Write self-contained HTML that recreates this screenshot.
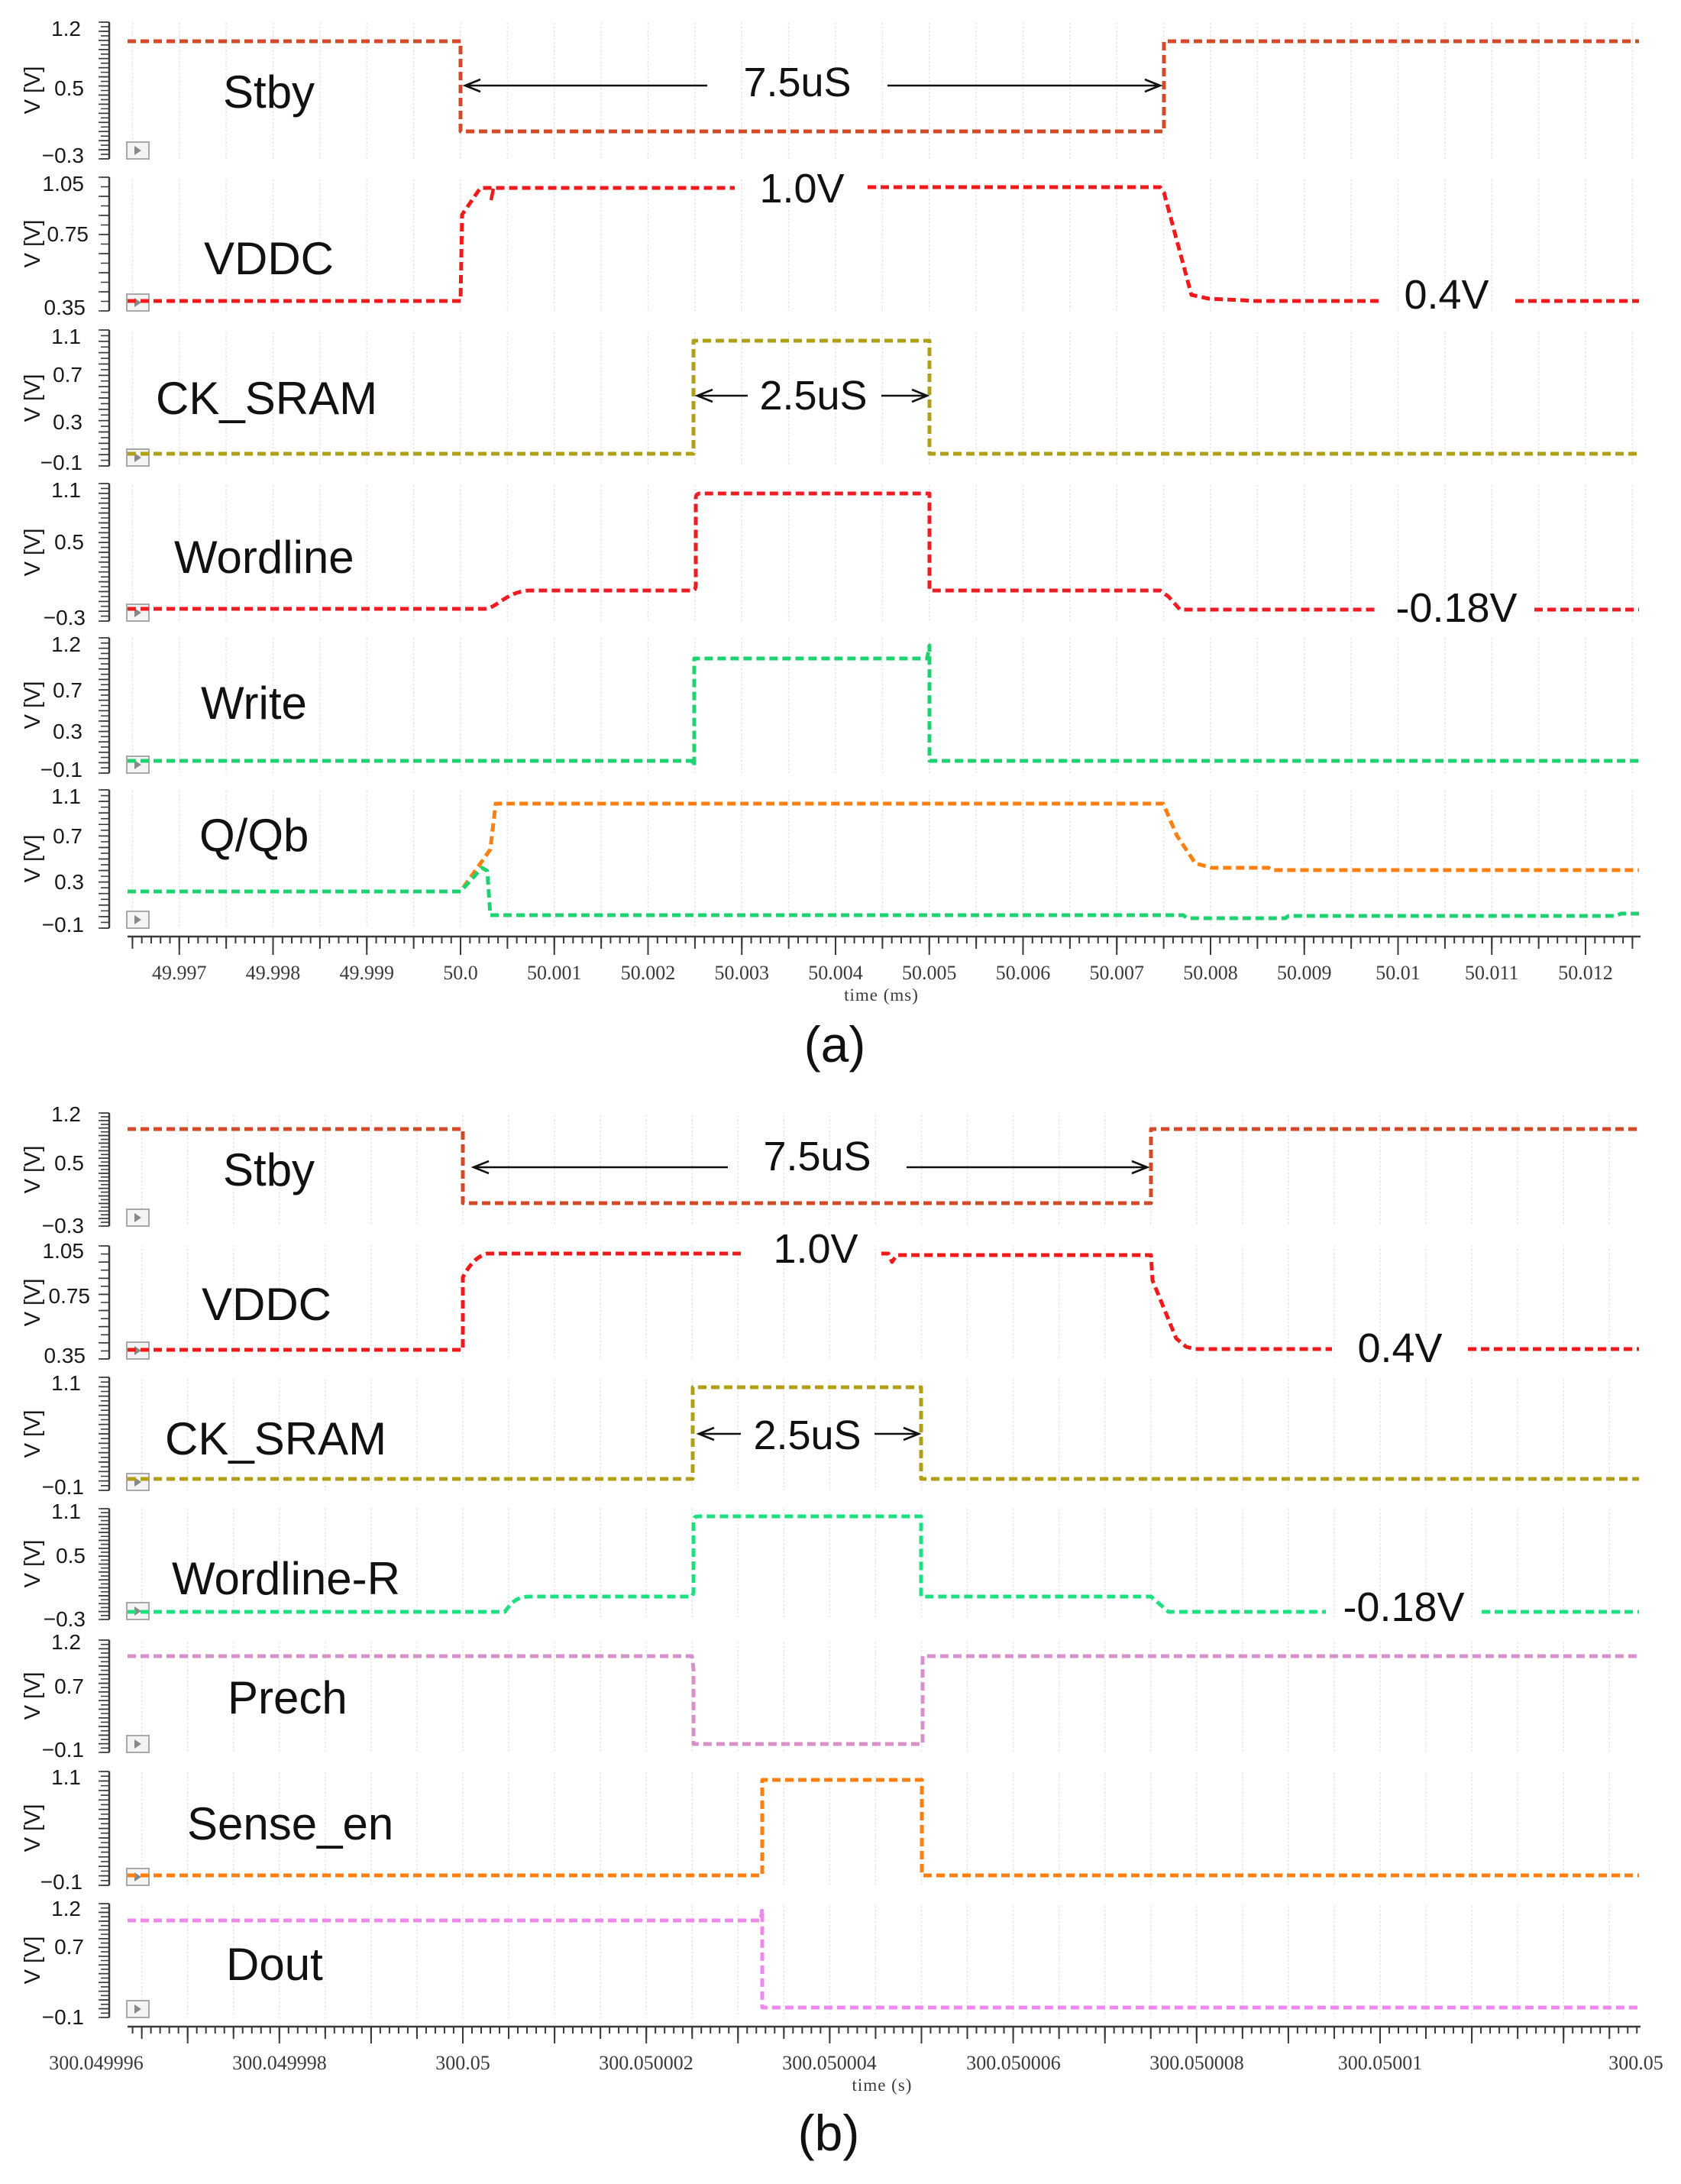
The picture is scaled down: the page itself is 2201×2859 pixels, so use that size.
<!DOCTYPE html>
<html><head><meta charset="utf-8"><style>
html,body{margin:0;padding:0;background:#fff}
svg{display:block}
.tl{font-family:"Liberation Sans",Arial,sans-serif;font-size:28px;fill:#1a1a1a;text-anchor:end}
.yl{font-family:"Liberation Sans",Arial,sans-serif;font-size:29px;fill:#1a1a1a;text-anchor:middle}
.sl{font-family:"Liberation Sans",Arial,sans-serif;font-size:60px;fill:#111}
.an{font-family:"Liberation Sans",Arial,sans-serif;font-size:54px;fill:#111;text-anchor:middle}
.xl{font-family:"Liberation Serif","DejaVu Serif",serif;font-size:26px;fill:#3a3a3a;text-anchor:middle}
.cap{font-family:"Liberation Sans",Arial,sans-serif;font-size:66px;fill:#111;text-anchor:middle}
.sig{fill:none;stroke-width:5;stroke-dasharray:11 6;stroke-linejoin:round}
.arr{fill:none;stroke:#111;stroke-width:2.6}
.ax{stroke:#3a3a3a}
</style></head><body>
<svg width="2201" height="2859" viewBox="0 0 2201 2859" xmlns="http://www.w3.org/2000/svg">
<defs>
<pattern id="ga" patternUnits="userSpaceOnUse" x="602.25" y="0" width="61.375" height="5"><rect width="1.5" height="2.5" fill="#e4e4e4"/></pattern>
<pattern id="gb" patternUnits="userSpaceOnUse" x="605.25" y="0" width="60.05" height="5"><rect width="1.5" height="2.5" fill="#e4e4e4"/></pattern>
<g id="ic"><rect x="0" y="0" width="29" height="22" fill="#f4f4f4" stroke="#a8a8a8" stroke-width="2"/><polygon points="10,5 10,17 19,11" fill="#888"/></g>
</defs>

<!-- ============ (a) grids ============ -->
<rect x="167" y="29" width="1981" height="179" fill="url(#ga)"/>
<rect x="167" y="232" width="1981" height="175" fill="url(#ga)"/>
<rect x="167" y="432" width="1981" height="178" fill="url(#ga)"/>
<rect x="167" y="633" width="1981" height="180" fill="url(#ga)"/>
<rect x="167" y="835" width="1981" height="177" fill="url(#ga)"/>
<rect x="167" y="1034" width="1981" height="181" fill="url(#ga)"/>

<!-- (a) y axes -->
<g class="ax">
<line x1="143" y1="29" x2="143" y2="208" stroke-width="2.5"/>
<line x1="137.5" y1="28.2" x2="137.5" y2="209" stroke-width="11" stroke-dasharray="1.6 4.367"/>
<line x1="136" y1="28.2" x2="136" y2="209" stroke-width="14" stroke-dasharray="1.6 10.33"/>
<line x1="143" y1="232" x2="143" y2="407" stroke-width="2.5"/>
<line x1="137.5" y1="231.2" x2="137.5" y2="408" stroke-width="11" stroke-dasharray="1.6 10.9"/>
<line x1="136" y1="231.2" x2="136" y2="408" stroke-width="14" stroke-dasharray="1.6 23.4"/>
<line x1="143" y1="432" x2="143" y2="610" stroke-width="2.5"/>
<line x1="137.5" y1="431.2" x2="137.5" y2="611" stroke-width="11" stroke-dasharray="1.6 5.817"/>
<line x1="136" y1="431.2" x2="136" y2="611" stroke-width="14" stroke-dasharray="1.6 13.23"/>
<line x1="143" y1="633" x2="143" y2="813" stroke-width="2.5"/>
<line x1="137.5" y1="632.2" x2="137.5" y2="814" stroke-width="11" stroke-dasharray="1.6 4.829"/>
<line x1="136" y1="632.2" x2="136" y2="814" stroke-width="14" stroke-dasharray="1.6 11.26"/>
<line x1="143" y1="835" x2="143" y2="1012" stroke-width="2.5"/>
<line x1="137.5" y1="834.2" x2="137.5" y2="1013" stroke-width="11" stroke-dasharray="1.6 5.208"/>
<line x1="136" y1="834.2" x2="136" y2="1013" stroke-width="14" stroke-dasharray="1.6 12.02"/>
<line x1="143" y1="1034" x2="143" y2="1215" stroke-width="2.5"/>
<line x1="137.5" y1="1033.2" x2="137.5" y2="1216" stroke-width="11" stroke-dasharray="1.6 5.942"/>
<line x1="136" y1="1033.2" x2="136" y2="1216" stroke-width="14" stroke-dasharray="1.6 13.48"/>
</g>

<!-- (a) tick labels -->
<text class="tl" x="106" y="47">1.2</text><text class="tl" x="110" y="125">0.5</text><text class="tl" x="110" y="213">−0.3</text>
<text class="tl" x="110" y="250">1.05</text><text class="tl" x="116" y="316">0.75</text><text class="tl" x="112" y="412">0.35</text>
<text class="tl" x="106" y="450">1.1</text><text class="tl" x="108" y="500">0.7</text><text class="tl" x="108" y="562">0.3</text><text class="tl" x="108" y="615">−0.1</text>
<text class="tl" x="106" y="651">1.1</text><text class="tl" x="110" y="719">0.5</text><text class="tl" x="112" y="818">−0.3</text>
<text class="tl" x="106" y="853">1.2</text><text class="tl" x="108" y="913">0.7</text><text class="tl" x="108" y="967">0.3</text><text class="tl" x="108" y="1017">−0.1</text>
<text class="tl" x="106" y="1052">1.1</text><text class="tl" x="108" y="1104">0.7</text><text class="tl" x="110" y="1164">0.3</text><text class="tl" x="110" y="1220">−0.1</text>

<!-- (a) V [V] labels -->
<text class="yl" transform="translate(42,118) rotate(-90)" y="10">V [V]</text>
<text class="yl" transform="translate(42,319) rotate(-90)" y="10">V [V]</text>
<text class="yl" transform="translate(42,521) rotate(-90)" y="10">V [V]</text>
<text class="yl" transform="translate(42,723) rotate(-90)" y="10">V [V]</text>
<text class="yl" transform="translate(42,923) rotate(-90)" y="10">V [V]</text>
<text class="yl" transform="translate(42,1124) rotate(-90)" y="10">V [V]</text>

<!-- (a) icons -->
<use href="#ic" x="166" y="186"/><use href="#ic" x="166" y="385"/><use href="#ic" x="166" y="588"/>
<use href="#ic" x="166" y="791"/><use href="#ic" x="166" y="990"/><use href="#ic" x="166" y="1193"/>

<!-- (a) x axis -->
<g class="ax">
<line x1="167" y1="1226" x2="2148" y2="1226" stroke-width="2.5"/>
<line x1="172.4" y1="1230.5" x2="2148" y2="1230.5" stroke-width="9" stroke-dasharray="2 10.275"/>
<line x1="172.4" y1="1234" x2="2148" y2="1234" stroke-width="16" stroke-dasharray="2 59.375"/>
<line x1="233.75" y1="1238" x2="2148" y2="1238" stroke-width="24" stroke-dasharray="2 120.75"/>
</g>
<text class="xl" x="234.75" y="1282">49.997</text>
<text class="xl" x="357.5" y="1282">49.998</text>
<text class="xl" x="480.25" y="1282">49.999</text>
<text class="xl" x="603" y="1282">50.0</text>
<text class="xl" x="725.75" y="1282">50.001</text>
<text class="xl" x="848.5" y="1282">50.002</text>
<text class="xl" x="971.25" y="1282">50.003</text>
<text class="xl" x="1094" y="1282">50.004</text>
<text class="xl" x="1216.75" y="1282">50.005</text>
<text class="xl" x="1339.5" y="1282">50.006</text>
<text class="xl" x="1462.25" y="1282">50.007</text>
<text class="xl" x="1585" y="1282">50.008</text>
<text class="xl" x="1707.75" y="1282">50.009</text>
<text class="xl" x="1830.5" y="1282">50.01</text>
<text class="xl" x="1953.25" y="1282">50.011</text>
<text class="xl" x="2076" y="1282">50.012</text>
<text class="xl" x="1154" y="1310" style="font-size:23px;letter-spacing:1px">time (ms)</text>
<text class="cap" x="1093" y="1390">(a)</text>

<!-- (a) signals -->
<path class="sig" stroke="#d24a28" d="M167,54 H603 V172 H1524 V54 H2146"/>
<path class="sig" stroke="#f01a1a" d="M167,394 H603 L605,281 L629,246 H962 M1136,245 H1519 L1524,252 L1560,386 L1583,391 L1627,393 L1640,394 H1808 M1984,394 H2146"/>
<path fill="none" stroke="#f01a1a" stroke-width="4.5" d="M646,247 L643,262"/>
<path class="sig" stroke="#b0a018" d="M167,594 H908 V446 H1217 V594 H2146"/>
<path class="sig" stroke="#ee1c24" d="M167,797 H634 C650,797 662,775 692,773 H907 Q911,773 911,765 V652 Q911,646 917,646 H1217 V773 H1519 L1530,781 L1545,798 H1805 M2009,798 H2146"/>
<path class="sig" stroke="#1ed270" d="M167,996 H906 L909,1003 V862 H1214 L1217,845 V996 H2146"/>
<path class="sig" stroke="#ff8010" d="M167,1167 H603 L642,1112 L649,1052 H1523 L1541,1094 L1565,1130 L1586,1136 H1661 L1665,1139 H2146"/>
<path class="sig" stroke="#1ed270" d="M167,1167 H603 L631,1136 L638,1140 L642,1198 H1549 L1555,1202 H1683 L1687,1199 H2116 L2122,1196 H2146"/>

<!-- (a) annotations -->
<path class="arr" d="M609,112 H926 M629,104 L609,112 L629,120 M1162,112 H1519 M1499,104 L1519,112 L1499,120"/>
<text class="an" x="1044" y="126">7.5uS</text>
<text class="an" x="1050" y="265">1.0V</text>
<path class="arr" d="M913,518 H979 M933,510 L913,518 L933,526 M1154,518 H1214 M1194,510 L1214,518 L1194,526"/>
<text class="an" x="1065" y="536">2.5uS</text>
<text class="an" x="1894" y="404">0.4V</text>
<text class="an" x="1907" y="814">-0.18V</text>

<!-- signal labels (a) -->
<text class="sl" x="292" y="141">Stby</text>
<text class="sl" x="267" y="359">VDDC</text>
<text class="sl" x="204" y="542">CK_SRAM</text>
<text class="sl" x="228" y="750">Wordline</text>
<text class="sl" x="263" y="941">Write</text>
<text class="sl" x="261" y="1114">Q/Qb</text>

<!-- ============ (b) grids ============ -->
<rect x="167" y="1457" width="1981" height="148" fill="url(#gb)"/>
<rect x="167" y="1631" width="1981" height="148" fill="url(#gb)"/>
<rect x="167" y="1803" width="1981" height="148" fill="url(#gb)"/>
<rect x="167" y="1975" width="1981" height="145" fill="url(#gb)"/>
<rect x="167" y="2147" width="1981" height="147" fill="url(#gb)"/>
<rect x="167" y="2319" width="1981" height="149" fill="url(#gb)"/>
<rect x="167" y="2492" width="1981" height="149" fill="url(#gb)"/>

<!-- (b) y axes -->
<g class="ax">
<line x1="143" y1="1457" x2="143" y2="1605" stroke-width="2.5"/>
<line x1="137.5" y1="1456.2" x2="137.5" y2="1606" stroke-width="11" stroke-dasharray="1.6 3.333"/>
<line x1="136" y1="1456.2" x2="136" y2="1606" stroke-width="14" stroke-dasharray="1.6 8.267"/>
<line x1="143" y1="1631" x2="143" y2="1779" stroke-width="2.5"/>
<line x1="137.5" y1="1630.2" x2="137.5" y2="1780" stroke-width="11" stroke-dasharray="1.6 8.971"/>
<line x1="136" y1="1630.2" x2="136" y2="1780" stroke-width="14" stroke-dasharray="1.6 19.54"/>
<line x1="143" y1="1803" x2="143" y2="1951" stroke-width="2.5"/>
<line x1="137.5" y1="1802.2" x2="137.5" y2="1952" stroke-width="11" stroke-dasharray="1.6 4.567"/>
<line x1="136" y1="1802.2" x2="136" y2="1952" stroke-width="14" stroke-dasharray="1.6 10.73"/>
<line x1="143" y1="1975" x2="143" y2="2120" stroke-width="2.5"/>
<line x1="137.5" y1="1974.2" x2="137.5" y2="2121" stroke-width="11" stroke-dasharray="1.6 3.579"/>
<line x1="136" y1="1974.2" x2="136" y2="2121" stroke-width="14" stroke-dasharray="1.6 8.758"/>
<line x1="143" y1="2147" x2="143" y2="2294" stroke-width="2.5"/>
<line x1="137.5" y1="2146.2" x2="137.5" y2="2295" stroke-width="11" stroke-dasharray="1.6 4.054"/>
<line x1="136" y1="2146.2" x2="136" y2="2295" stroke-width="14" stroke-dasharray="1.6 9.708"/>
<line x1="143" y1="2319" x2="143" y2="2468" stroke-width="2.5"/>
<line x1="137.5" y1="2318.2" x2="137.5" y2="2469" stroke-width="11" stroke-dasharray="1.6 4.608"/>
<line x1="136" y1="2318.2" x2="136" y2="2469" stroke-width="14" stroke-dasharray="1.6 10.82"/>
<line x1="143" y1="2492" x2="143" y2="2641" stroke-width="2.5"/>
<line x1="137.5" y1="2491.2" x2="137.5" y2="2642" stroke-width="11" stroke-dasharray="1.6 4.131"/>
<line x1="136" y1="2491.2" x2="136" y2="2642" stroke-width="14" stroke-dasharray="1.6 9.862"/>
</g>

<!-- (b) tick labels -->
<text class="tl" x="106" y="1468">1.2</text><text class="tl" x="110" y="1532">0.5</text><text class="tl" x="110" y="1614">−0.3</text>
<text class="tl" x="110" y="1647">1.05</text><text class="tl" x="118" y="1706">0.75</text><text class="tl" x="112" y="1784">0.35</text>
<text class="tl" x="106" y="1820">1.1</text><text class="tl" x="110" y="1956">−0.1</text>
<text class="tl" x="106" y="1988">1.1</text><text class="tl" x="112" y="2046">0.5</text><text class="tl" x="112" y="2129">−0.3</text>
<text class="tl" x="106" y="2159">1.2</text><text class="tl" x="110" y="2217">0.7</text><text class="tl" x="110" y="2300">−0.1</text>
<text class="tl" x="106" y="2336">1.1</text><text class="tl" x="108" y="2473">−0.1</text>
<text class="tl" x="106" y="2508">1.2</text><text class="tl" x="110" y="2558">0.7</text><text class="tl" x="110" y="2650">−0.1</text>

<!-- (b) V [V] labels -->
<text class="yl" transform="translate(42,1531) rotate(-90)" y="10">V [V]</text>
<text class="yl" transform="translate(42,1705) rotate(-90)" y="10">V [V]</text>
<text class="yl" transform="translate(42,1877) rotate(-90)" y="10">V [V]</text>
<text class="yl" transform="translate(42,2047) rotate(-90)" y="10">V [V]</text>
<text class="yl" transform="translate(42,2220) rotate(-90)" y="10">V [V]</text>
<text class="yl" transform="translate(42,2393) rotate(-90)" y="10">V [V]</text>
<text class="yl" transform="translate(42,2566) rotate(-90)" y="10">V [V]</text>

<!-- (b) icons -->
<use href="#ic" x="166" y="1583"/><use href="#ic" x="166" y="1757"/><use href="#ic" x="166" y="1929"/>
<use href="#ic" x="166" y="2098"/><use href="#ic" x="166" y="2272"/><use href="#ic" x="166" y="2446"/>
<use href="#ic" x="166" y="2619"/>

<!-- (b) x axis -->
<g class="ax">
<line x1="167" y1="2653" x2="2148" y2="2653" stroke-width="2.5"/>
<line x1="172.6" y1="2657.5" x2="2148" y2="2657.5" stroke-width="9" stroke-dasharray="2 10.01"/>
<line x1="184.65" y1="2661" x2="2148" y2="2661" stroke-width="16" stroke-dasharray="2 58.05"/>
<line x1="244.7" y1="2664" x2="2148" y2="2664" stroke-width="22" stroke-dasharray="2 118.1"/>
</g>
<text class="xl" x="126" y="2709">300.049996</text>
<text class="xl" x="366" y="2709">300.049998</text>
<text class="xl" x="606" y="2709">300.05</text>
<text class="xl" x="846" y="2709">300.050002</text>
<text class="xl" x="1086" y="2709">300.050004</text>
<text class="xl" x="1327" y="2709">300.050006</text>
<text class="xl" x="1567" y="2709">300.050008</text>
<text class="xl" x="1807" y="2709">300.05001</text>
<text class="xl" x="2142" y="2709">300.05</text>
<text class="xl" x="1155" y="2737" style="font-size:23px;letter-spacing:1px">time (s)</text>
<text class="cap" x="1085" y="2815">(b)</text>

<!-- (b) signals -->
<path class="sig" stroke="#d24a28" d="M167,1478 H606 V1575 H1507 V1478 H2146"/>
<path class="sig" stroke="#f01a1a" d="M167,1767 H606 V1672 Q620,1645 638,1641 H973 M1154,1641 H1163 L1168,1652 L1174,1643 H1507 L1509,1676 L1540,1752 L1553,1763 L1565,1766 H1744 M1922,1766 H2146"/>
<path class="sig" stroke="#b0a018" d="M167,1936 H907 V1816 H1206 V1936 H2146"/>
<path class="sig" stroke="#1fe080" d="M167,2110 H661 C672,2094 680,2090 695,2090 H906 L908,2085 V1991 Q908,1985 914,1985 H1206 V2090 H1507 L1530,2110 H1736 M1940,2110 H2146"/>
<path class="sig" stroke="#d890c8" d="M167,2168 H906 L908,2185 V2283 H1208 V2168 H2146"/>
<path class="sig" stroke="#ff8010" d="M167,2455 H998 V2330 H1207 V2455 H2146"/>
<path class="sig" stroke="#ee88ee" d="M167,2514 H996 L998,2499 V2628 H2146"/>

<!-- (b) annotations -->
<path class="arr" d="M620,1528 H953 M640,1520 L620,1528 L640,1536 M1187,1528 H1502 M1482,1520 L1502,1528 L1482,1536"/>
<text class="an" x="1070" y="1532">7.5uS</text>
<text class="an" x="1068" y="1653">1.0V</text>
<path class="arr" d="M915,1877 H970 M935,1869 L915,1877 L935,1885 M1145,1877 H1203 M1183,1869 L1203,1877 L1183,1885"/>
<text class="an" x="1057" y="1897">2.5uS</text>
<text class="an" x="1833" y="1783">0.4V</text>
<text class="an" x="1838" y="2122">-0.18V</text>

<!-- signal labels (b) -->
<text class="sl" x="292" y="1552">Stby</text>
<text class="sl" x="264" y="1728">VDDC</text>
<text class="sl" x="216" y="1904">CK_SRAM</text>
<text class="sl" x="225" y="2087">Wordline-R</text>
<text class="sl" x="298" y="2243">Prech</text>
<text class="sl" x="245" y="2408">Sense_en</text>
<text class="sl" x="296" y="2592">Dout</text>
</svg>
</body></html>
